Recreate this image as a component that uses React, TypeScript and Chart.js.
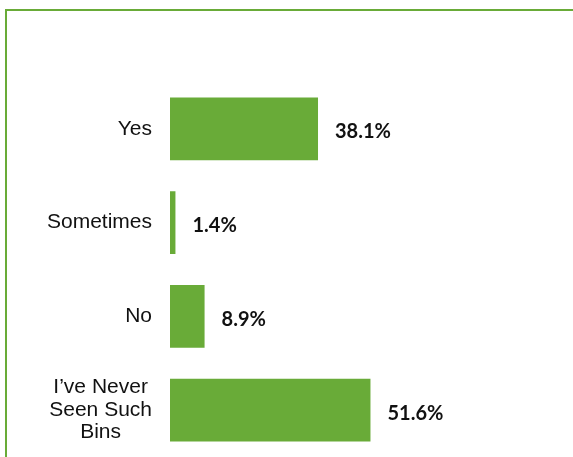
import React, { useEffect, useRef } from "react";
import { Chart, registerables } from "chart.js";

Chart.register(...registerables);

const categories: string[][] = [["Yes"], ["Sometimes"], ["No"], ["I’ve Never", "Seen Such", "Bins"]];
const values: number[] = [38.1, 1.4, 8.9, 51.6];
const valueLabels: string[] = ["38.1%", "1.4%", "8.9%", "51.6%"];

const GREEN = "#69AB38";

const labelPlugin = {
  id: "customLabels",
  afterDatasetsDraw(chart: any) {
    const ctx = chart.ctx;
    const yScale = chart.scales.y;
    const meta = chart.getDatasetMeta(0);
    ctx.save();
    // category labels
    ctx.font = "21px 'Liberation Sans', Arial, sans-serif";
    ctx.fillStyle = "#111111";
    ctx.textBaseline = "middle";
    const lineH = 22.5;
    const rightEdge = 152;
    categories.forEach((lines, i) => {
      const cy = yScale.getPixelForValue(i);
      const widest = Math.max(...lines.map((l) => ctx.measureText(l).width));
      const centerX = rightEdge - widest / 2;
      ctx.textAlign = "center";
      lines.forEach((line, j) => {
        const y = cy + (j - (lines.length - 1) / 2) * lineH;
        ctx.fillText(line, centerX, y);
      });
    });
    // value labels
    ctx.font = "bold 20px Lato, 'Open Sans', sans-serif";
    ctx.fillStyle = "#111111";
    ctx.textAlign = "left";
    meta.data.forEach((bar: any, i: number) => {
      ctx.fillText(valueLabels[i], bar.x + 17, bar.y + 3);
    });
    ctx.restore();
  },
};

export default function App() {
  const ref = useRef<HTMLCanvasElement>(null);
  useEffect(() => {
    if (!ref.current) return;
    const chart = new Chart(ref.current, {
      type: "bar",
      data: {
        labels: categories.map((c) => c.join(" ")),
        datasets: [
          {
            data: values,
            backgroundColor: GREEN,
            borderWidth: 0,
            barPercentage: 1,
            categoryPercentage: 0.667,
          },
        ],
      },
      options: {
        indexAxis: "y",
        animation: false,
        responsive: false,
        maintainAspectRatio: false,
        layout: { padding: { left: 170, right: 14.5, top: 82, bottom: 0 } },
        plugins: { legend: { display: false }, tooltip: { enabled: false } },
        scales: {
          x: { display: false, min: 0, max: 100 },
          y: { display: false },
        },
      },
      plugins: [labelPlugin],
    });
    return () => chart.destroy();
  }, []);
  return (
    <div style={{ position: "absolute", left: 0, top: 0, width: 573, height: 457, overflow: "hidden", background: "#fff" }}>
      <div
        style={{
          position: "absolute",
          left: 5,
          top: 9,
          width: 700,
          height: 600,
          borderTop: `2px solid ${GREEN}`,
          borderLeft: `2px solid ${GREEN}`,
        }}
      />
      <canvas ref={ref} width={573} height={457} style={{ position: "absolute", left: 0, top: 0 }} />
    </div>
  );
}
